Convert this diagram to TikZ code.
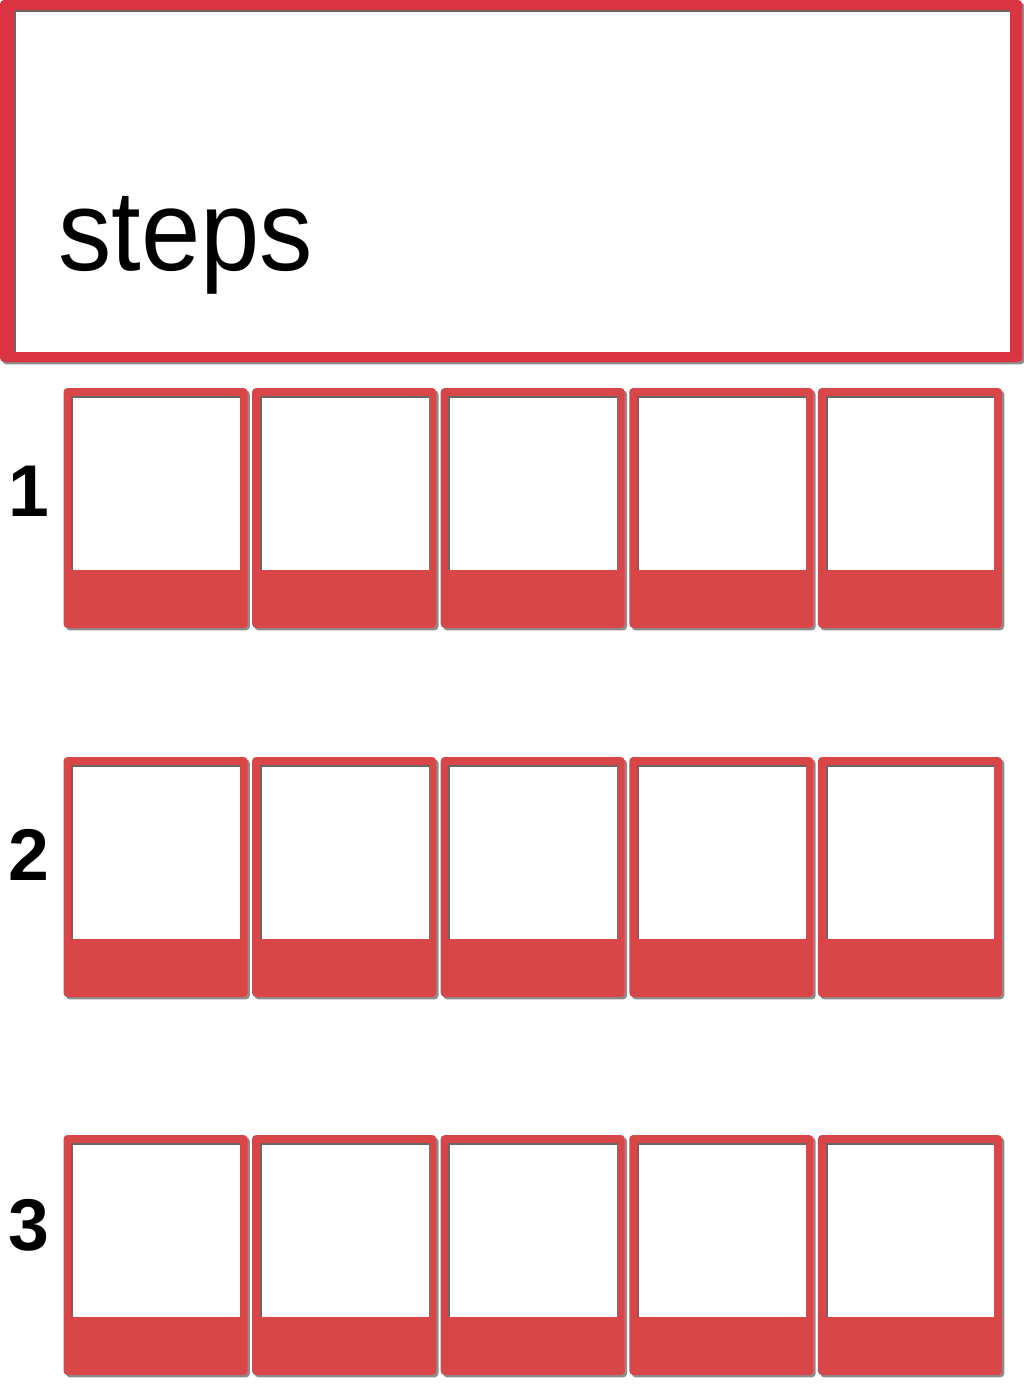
\documentclass[tikz,border=0pt]{standalone}
\usepackage{fontspec}
\setmainfont{Liberation Sans}
\usetikzlibrary{shadows}
\definecolor{topred}{RGB}{218,52,66}
\definecolor{cardred}{RGB}{217,70,72}
\definecolor{insetgray}{RGB}{110,100,100}
\begin{document}
\begin{tikzpicture}[x=0.75pt,y=-0.75pt,
  frameshadow/.style={drop shadow={shadow xshift=1.8pt,shadow yshift=-1.8pt,opacity=0.6,fill=black!75}},
  topframe/.style={fill=topred,rounded corners=3pt,frameshadow},
  cardframe/.style={fill=cardred,rounded corners=3pt,frameshadow},
  window/.style={fill=white},
  inset/.style={draw=insetgray,line width=1.4pt},
  digit/.style={font=\fontsize{55}{60}\selectfont\bfseries,inner sep=0pt,anchor=center}
]
\useasboundingbox (0,0) rectangle (1024,1399);
\fill[white] (0,0) rectangle (1024,1399);
% top box
\path[topframe] (0,0) rectangle (1022,362);
\fill[window] (14,10) rectangle (1010,352);
\draw[inset] (14.7,352) -- (14.7,10.7) -- (1010,10.7);
\node[inner sep=0pt,anchor=base west] (steps) at (58,270)
  {\scalebox{0.93}[1]{\fontsize{86}{90}\selectfont steps}};
% cards
\foreach \r/\top/\lab/\ly in {1/388/1/491.5,2/757/2/855,3/1135/3/1225}{
  \node[digit] (lab\r) at (28.5,\ly) {\lab};
  \foreach \c in {0,...,4}{
    \pgfmathsetmacro{\xl}{63.5+\c*188.6}
    \path[cardframe] (\xl,\top) rectangle ++(184,240);
    \fill[window] (\xl+8,\top+8) rectangle (\xl+176.5,\top+182);
    \draw[inset] (\xl+8.7,\top+182) -- (\xl+8.7,\top+8.7) -- (\xl+176.5,\top+8.7);
    \coordinate (card\r\c) at (\xl+92,\top+120);
  }
}
\end{tikzpicture}
\end{document}
